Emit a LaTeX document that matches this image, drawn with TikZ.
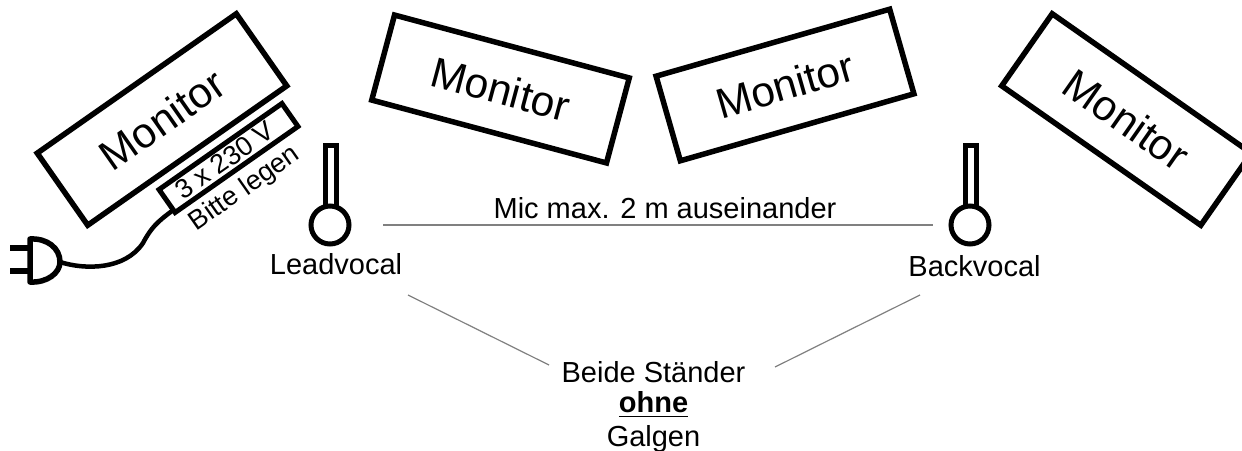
\documentclass[tikz,border=0pt]{standalone}
\usepackage{fontspec}
\setmainfont{Liberation Sans}
\newcommand{\fs}[1]{\fontsize{#1}{#1}\selectfont}
\tikzset{
  monitorbox/.style={draw=black,line width=5.5pt,minimum width=243pt,minimum height=88pt,inner sep=0pt,font=\fs{42.5}},
  outlet/.style={draw=black,line width=5pt,minimum width=150pt,minimum height=28pt,inner sep=0pt},
  sidetext/.style={inner sep=0pt,font=\fs{27},rotate=35},
  micstem/.style={draw=black,line width=5pt,minimum width=11pt,minimum height=61pt,inner sep=0pt},
  michead/.style={circle,draw=black,line width=5pt,minimum size=38pt,inner sep=0pt,fill=white},
  lbl/.style={inner sep=0pt,font=\fs{29},text=black},
  thin line/.style={draw=black!50,line width=1.2pt},
  thick line/.style={draw=black,line width=5.5pt}
}
\begin{document}
\begin{tikzpicture}[x=1pt,y=-1pt]
\useasboundingbox (0,0) rectangle (1242,450);
\node[monitorbox,rotate=35] (m1) at (162,119.5) {Monitor};
\node[monitorbox,rotate=-15] (m2) at (500.5,89) {Monitor};
\node[monitorbox,rotate=16] (m3) at (785,85) {Monitor};
\node[monitorbox,rotate=-35] (m4) at (1126.5,119.5) {Monitor};
\node[outlet,rotate=35] (o) at (228.5,158) {};
\node[sidetext] (ot) at (224.5,160.5) {3 x 230 V};
\node[sidetext] (bl) at (245,189) {Bitte legen};
% plug
\coordinate (pt) at (60,262);
\draw[thick line,line join=round] (30,239) .. controls (47,238) and (60,248) .. (pt) .. controls (60,273) and (47,283) .. (30,282) -- cycle;
\coordinate (p1a) at (10,248); \coordinate (p1b) at (30,248);
\coordinate (p2a) at (10,271); \coordinate (p2b) at (30,271);
\draw[thick line] (p1a) -- (p1b);
\draw[thick line] (p2a) -- (p2b);
\coordinate (ce) at (172,211);
\draw[thick line,line width=4.5pt] (pt) .. controls (85,270) and (125,270) .. (143,243) .. controls (151,228) and (157,222) .. (ce);
% mics
\node[micstem] (s1) at (331,176) {};
\node[michead] (h1) at (330,225) {};
\node[micstem] (s2) at (970.5,176) {};
\node[michead] (h2) at (970,225) {};
\node[lbl] (lead) at (336,264) {Leadvocal};
\node[lbl] (back) at (974.5,266) {Backvocal};
\node[lbl] (mic) at (665,208) {Mic max. 2 m auseinander};
\coordinate (a1) at (383,225); \coordinate (a2) at (933,225);
\draw[thin line] (a1) -- (a2);
\coordinate (b1) at (408,295); \coordinate (b2) at (549,365);
\coordinate (c1) at (920,295); \coordinate (c2) at (775,367);
\draw[thin line] (b1) -- (b2);
\draw[thin line] (c1) -- (c2);
\node[lbl,anchor=base] (t1) at (653.5,382) {Beide Ständer};
\node[lbl,anchor=base] (t2) at (653.5,412) {\underline{\textbf{ohne}\rule[-2.5pt]{0pt}{2.5pt}}};
\node[lbl,anchor=base] (t3) at (653.5,446) {Galgen};
\end{tikzpicture}
\end{document}
